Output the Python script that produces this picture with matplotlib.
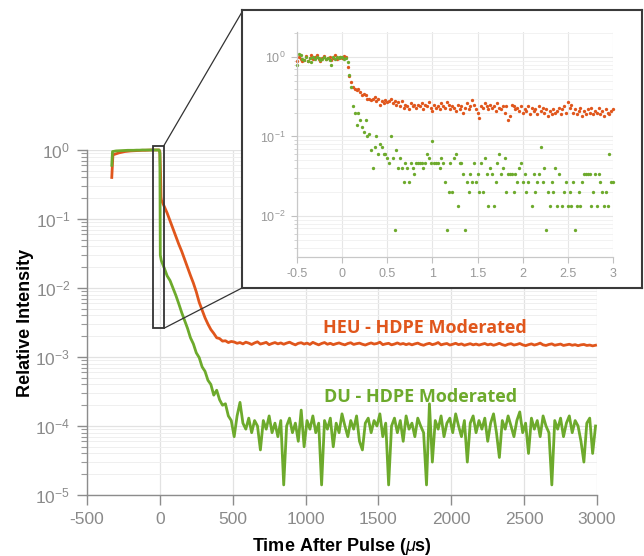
import numpy as np
import matplotlib
matplotlib.use('Agg')
from matplotlib import pyplot as plt
from matplotlib.patches import Rectangle, ConnectionPatch
from matplotlib.ticker import LogLocator, FixedLocator, NullFormatter, FuncFormatter, LogFormatterMathtext

plt.rcParams['font.family'] = ['Liberation Sans', 'DejaVu Sans']
plt.rcParams['mathtext.fontset'] = 'custom'
plt.rcParams['mathtext.rm'] = 'Liberation Sans'
plt.rcParams['mathtext.it'] = 'Liberation Sans:italic'
plt.rcParams['mathtext.bf'] = 'Liberation Sans:bold'
plt.rcParams['axes.unicode_minus'] = False

HEU_COLOR = '#E0561C'
DU_COLOR = '#6DAA2C'
TICK_GRAY = '#8a8a8a'

# ---- main plot data (time in microseconds) ----
heu_rise_t = [-330, -322, -300, -280, -260, -240, -220, -200, -180, -160, -140, -120, -100, -80, -60, -40, -20, -5, 0, 5, 8]
heu_rise_v = [0.40, 0.85, 0.88, 0.91, 0.93, 0.95, 0.96, 0.97, 0.975, 0.98, 0.985, 0.99, 0.99, 0.995, 1.0, 1.0, 1.0, 1.0, 0.95, 0.45, 0.21]
du_rise_t = [-330, -325, -300, -280, -260, -240, -220, -200, -180, -160, -140, -120, -100, -80, -60, -40, -20, -5, 0, 3, 8]
du_rise_v = [0.60, 0.95, 0.97, 0.975, 0.98, 0.985, 0.99, 0.99, 0.99, 0.995, 0.995, 1.0, 1.0, 1.0, 1.0, 1.0, 1.0, 1.0, 0.9, 0.03, 0.026]

# decay, 20 us steps from 10 us
heu_decay = [0.19, 0.152, 0.122, 0.094, 0.073, 0.056, 0.043, 0.034, 0.026, 0.020, 0.0152, 0.0118, 0.0088,
             0.0062, 0.0048, 0.0037, 0.0030, 0.0025, 0.0022, 0.0019, 0.00185, 0.0017, 0.00172, 0.00162, 0.00168]
du_decay = [0.025, 0.0195, 0.0150, 0.0128, 0.0100, 0.0078, 0.0059, 0.0044, 0.0034, 0.0026, 0.0019, 0.00155,
            0.00115, 0.00098, 0.00072, 0.00062, 0.00046, 0.00040, 0.00028, 0.00033, 0.00024, 0.00020, 0.00021,
            0.00014, 0.00012]

# background floor, 20 us steps from 510 us
heu_floor_e4 = [16.5, 15.8, 16.2, 15.5, 16.4, 15.9, 15.2, 16.0, 16.6, 15.4, 15.8, 16.3, 15.1, 15.7, 16.2, 15.5,
                16.0, 15.3, 15.9, 16.4, 15.6, 15.0, 15.8, 16.1, 15.4, 15.9, 15.2, 16.3, 15.6, 15.0, 15.7, 16.2,
                15.3, 15.8, 15.1, 15.6, 16.0, 15.4, 15.0, 15.7, 16.1, 15.2, 15.6, 15.9, 15.3, 14.9, 15.5, 16.0,
                15.4, 15.7, 16.4, 15.1, 15.5, 15.8, 15.0, 15.4, 16.0, 15.3, 15.7, 15.1, 15.6, 15.0, 15.5, 15.9,
                15.2, 14.8, 15.4, 15.8, 15.1, 15.5, 16.2, 15.0, 15.4, 15.7, 14.9, 15.3, 15.8, 15.1, 15.5, 14.8,
                15.2, 15.6, 15.0, 15.4, 14.9, 15.3, 15.7, 15.0, 15.4, 14.8, 15.2, 15.8, 15.1, 14.7, 15.3, 15.6,
                14.9, 15.2, 15.7, 15.0, 14.6, 15.1, 15.5, 14.9, 15.3, 15.9, 15.0, 14.7, 15.2, 15.5, 14.8, 15.1,
                15.4, 14.7, 15.0, 15.3, 14.8, 15.1, 14.6, 15.0, 15.2, 14.7, 14.9, 14.5, 14.8, 14.4]
du_floor_e5 = [7, 14, 22, 11, 9, 13, 8, 12, 10, 4.5, 12, 9, 14, 8, 11, 7, 12, 1.4, 10, 13, 8, 11, 6, 17, 5, 12,
               9, 14, 8, 11, 1.4, 12, 9, 13, 5, 11, 8, 15, 10, 7, 12, 9, 14, 6, 4.5, 11, 13, 8, 12, 10, 15, 7,
               11, 1.4, 10, 13, 8, 12, 6, 14, 9, 11, 7, 13, 10, 8, 1.4, 21, 3, 12, 9, 14, 7, 11, 13, 8, 15, 10,
               7, 12, 3, 11, 14, 8, 12, 9, 13, 6, 11, 15, 8, 3.5, 12, 9, 14, 10, 7, 12, 16, 8, 11, 4, 13, 9, 12,
               7, 14, 10, 8, 1.4, 12, 9, 13, 7, 11, 14, 8, 12, 10, 6, 3, 11, 13, 4, 10, 11]

# ---- inset data (0.02 steps from -0.5) ----
heu_inset = [0.90, 1.0, 0.95, 0.88, 0.92, 1.02, 0.9, 0.98, 1.05, 0.93, 1.0, 1.06, 0.95, 0.9, 0.98, 1.02, 0.94,
             0.97, 1.0, 0.92, 0.96, 1.05, 0.95, 0.98, 1.0, 0.97, 1.02, 1.0,
             0.75, 0.58, 0.48, 0.42, 0.40, 0.38, 0.40, 0.36, 0.33, 0.34, 0.33, 0.30, 0.30, 0.29, 0.30, 0.31,
             0.28, 0.30, 0.25, 0.28, 0.26, 0.29, 0.27, 0.28, 0.30, 0.26, 0.28, 0.25, 0.27, 0.24, 0.28, 0.23,
             0.25, 0.24, 0.22, 0.26, 0.24, 0.25, 0.23, 0.25, 0.24, 0.26, 0.22, 0.25, 0.24, 0.27, 0.23, 0.21,
             0.25, 0.23, 0.24, 0.22, 0.26, 0.24, 0.23, 0.27, 0.25, 0.22, 0.24, 0.23, 0.21, 0.25, 0.22, 0.24,
             0.20, 0.23, 0.26, 0.22, 0.24, 0.29, 0.25, 0.22, 0.20, 0.17, 0.24, 0.23, 0.26, 0.24, 0.22, 0.25,
             0.23, 0.24, 0.21, 0.26, 0.23, 0.22, 0.24, 0.20, 0.24, 0.16, 0.18, 0.25, 0.24, 0.22, 0.23, 0.21,
             0.24, 0.20, 0.22, 0.21, 0.24, 0.19, 0.23, 0.21, 0.22, 0.19, 0.24, 0.21, 0.23, 0.20, 0.22, 0.18,
             0.21, 0.19, 0.22, 0.20, 0.21, 0.23, 0.19, 0.22, 0.24, 0.20, 0.27, 0.23, 0.25, 0.20, 0.22, 0.19,
             0.21, 0.23, 0.18, 0.21, 0.19, 0.22, 0.20, 0.23, 0.19, 0.21, 0.20, 0.23, 0.19, 0.21, 0.18, 0.22,
             0.20, 0.19, 0.21, 0.22]
# DU inset as counts out of 150
du_inset_counts = [120, 165, 158, 142, 138, 150, 135, 147, 130, 152, 140, 148, 145, 136, 142, 150, 140, 146,
                   138, 118, 148, 142, 150, 145, 148, 152, 140, 145,
                   128, 90, 63, 36, 30, 21, 30, 24, 20, 17, 24, 15, 16, 10, 6, 11, 15, 9, 12, 11, 9, 9, 8, 7,
                   15, 8, 1, 10, 6, 8, 6, 4, 7, 6, 4, 7, 6, 5, 7, 7, 7, 7, 6, 7, 9, 8, 7, 13, 7, 7, 7, 6, 8, 7,
                   4, 1, 3, 7, 3, 8, 9, 2, 7, 7, 5, 1, 4, 3, 5, 4, 7, 4, 5, 3, 7, 3, 8, 5, 2, 6, 5, 2, 4, 7, 9,
                   5, 6, 8, 3, 5, 5, 5, 3, 5, 4, 6, 7, 4, 5, 3, 4, 0, 2, 5, 3, 4, 5, 11, 4, 6, 1, 3, 2, 4, 3, 6,
                   2, 5, 0, 2, 3, 4, 2, 3, 2, 4, 1, 2, 3, 2, 4, 5, 5, 5, 5, 2, 3, 5, 2, 5, 4, 3, 2, 3, 2, 9, 4, 4]

# ---- assemble series ----
heu_t = np.concatenate([heu_rise_t, 10 + 20 * np.arange(len(heu_decay)), 510 + 20 * np.arange(len(heu_floor_e4))])
heu_v = np.concatenate([heu_rise_v, heu_decay, np.array(heu_floor_e4) * 1e-4])
du_t = np.concatenate([du_rise_t, 10 + 20 * np.arange(len(du_decay)), 510 + 20 * np.arange(len(du_floor_e5))])
du_v = np.concatenate([du_rise_v, du_decay, np.array(du_floor_e5) * 1e-5])
keep = heu_t <= 3000
heu_t, heu_v = heu_t[keep], heu_v[keep]
keep = du_t <= 3000
du_t, du_v = du_t[keep], du_v[keep]

fig = plt.figure(figsize=(6.44, 5.56), dpi=100)
ax = fig.add_axes([87 / 644, 1 - 495 / 556, 510 / 644, 345 / 556])
ax.set_zorder(1)

ax.plot(heu_t, heu_v, color=HEU_COLOR, lw=2.0, clip_on=False, zorder=3)
ax.plot(du_t, du_v, color=DU_COLOR, lw=2.0, clip_on=False, zorder=4)

ax.set_yscale('log')
ax.set_xlim(-500, 3000)
ax.set_ylim(1e-5, 1)
ax.set_xticks(np.arange(-500, 3001, 500))
ax.yaxis.set_major_locator(LogLocator(base=10, numticks=10))
ax.yaxis.set_minor_locator(LogLocator(base=10, subs=np.arange(2, 10), numticks=20))
ax.yaxis.set_minor_formatter(NullFormatter())
ax.grid(True, which='major', color='#e2e2e2', lw=0.9)
ax.grid(True, which='minor', axis='y', color='#efefef', lw=0.7)
ax.set_axisbelow(True)
for side in ('top', 'right'):
    ax.spines[side].set_visible(False)
for side in ('left', 'bottom'):
    ax.spines[side].set_color('#8c8c8c')
    ax.spines[side].set_linewidth(1.0)
ax.tick_params(which='major', direction='out', length=7, width=1.0, color='#8c8c8c',
               labelcolor=TICK_GRAY, labelsize=12.5, pad=5)
ax.tick_params(which='minor', direction='out', length=4, width=0.8, color='#9a9a9a')
ax.set_xlabel(r'Time After Pulse ($\mu$s)', fontsize=13, fontweight='bold', labelpad=7)
ax.set_ylabel('Relative Intensity', fontsize=13, fontweight='bold', labelpad=1)

ax.text(1817, 2.65e-3, 'HEU - HDPE Moderated', ha='center', va='center', color=HEU_COLOR,
        fontsize=13, fontweight='bold', family=['Open Sans', 'DejaVu Sans'], zorder=6)
ax.text(1790, 2.6e-4, 'DU - HDPE Moderated', ha='center', va='center', color=DU_COLOR,
        fontsize=13, fontweight='bold', family=['Open Sans', 'DejaVu Sans'], zorder=6)

# zoom box on the main plot
box_x0, box_x1, box_y0, box_y1 = -50, 27, 2.6e-3, 1.15
ax.add_patch(Rectangle((box_x0, box_y0), box_x1 - box_x0, box_y1 - box_y0, fill=False,
                       ec='#333333', lw=1.3, clip_on=False, zorder=7))

# inset frame and axes
frame = fig.add_axes([242 / 644, 1 - 288 / 556, 400 / 644, 278 / 556])
frame.set_zorder(3)
frame.set_xticks([])
frame.set_yticks([])
for sp in frame.spines.values():
    sp.set_color('#3a3a3a')
    sp.set_linewidth(1.5)

ins = fig.add_axes([297 / 644, 1 - 257 / 556, 316 / 644, 225 / 556])
ins.set_zorder(4)
ins.patch.set_alpha(0)
t_heu_in = -0.5 + 0.02 * np.arange(len(heu_inset))
t_du_in = -0.5 + 0.02 * np.arange(len(du_inset_counts))
du_in = np.array(du_inset_counts, dtype=float) / 150
mask = du_in > 0
ins.plot(t_heu_in, heu_inset, 'o', ms=2.4, color=HEU_COLOR, mec='none', clip_on=False)
ins.plot(t_du_in[mask], du_in[mask], 'o', ms=2.4, color=DU_COLOR, mec='none', clip_on=False)
ins.set_yscale('log')
ins.set_xlim(-0.5, 3.0)
ins.set_ylim(3.05e-3, 2.06)
ins.xaxis.set_major_locator(FixedLocator(np.arange(-0.5, 3.01, 0.5)))
ins.xaxis.set_major_formatter(FuncFormatter(lambda v, p: f'{v:g}'))
ins.yaxis.set_major_locator(LogLocator(base=10, numticks=10))
ins.yaxis.set_major_formatter(LogFormatterMathtext())
ins.yaxis.set_minor_locator(LogLocator(base=10, subs=np.arange(2, 10), numticks=20))
ins.yaxis.set_minor_formatter(NullFormatter())
ins.grid(True, which='major', color='#e6e6e6', lw=0.8)
ins.grid(True, which='minor', axis='y', color='#f0f0f0', lw=0.6)
ins.set_axisbelow(True)
for side in ('top', 'right'):
    ins.spines[side].set_visible(False)
for side in ('left', 'bottom'):
    ins.spines[side].set_color('#c8c8c8')
    ins.spines[side].set_linewidth(0.9)
ins.tick_params(which='major', direction='out', length=4, width=0.8, color='#c0c0c0',
                labelcolor='#999999', labelsize=9, pad=4)
ins.tick_params(which='minor', direction='out', length=2.5, width=0.6, color='#cccccc')

# connector lines from the zoom box to the inset frame
for (bx, by), (fx, fy) in [((box_x1, box_y1), (0, 0.993)), ((box_x1, box_y0), (0, 0))]:
    con = ConnectionPatch(xyA=(bx, by), coordsA=ax.transData, xyB=(fx, fy), coordsB=frame.transAxes,
                          color='#333333', lw=0.9, zorder=2)
    fig.add_artist(con)

fig.savefig('out.png', dpi=100)
